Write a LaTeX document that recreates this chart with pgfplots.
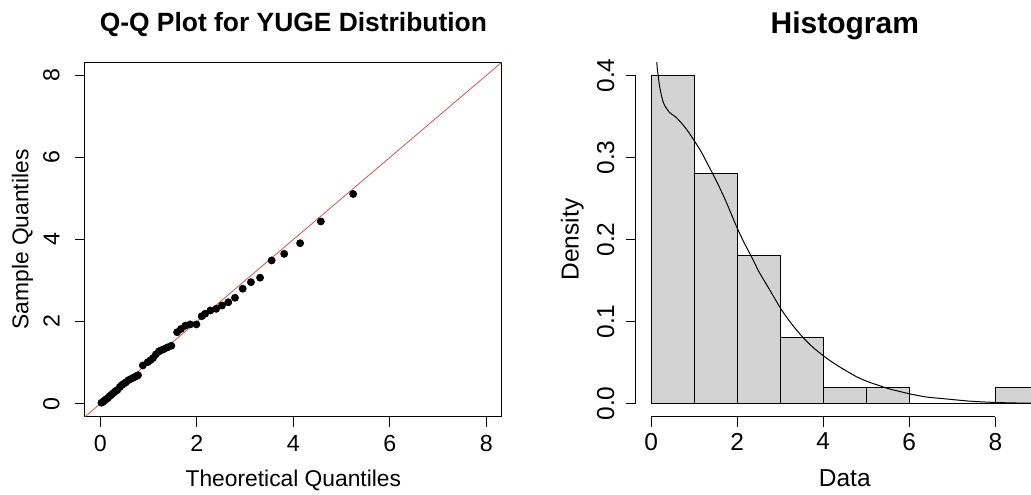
\documentclass[border=0pt]{standalone}
\usepackage{pgfplots}
\pgfplotsset{compat=1.18}
\usepackage{fontspec}
\setmainfont{Liberation Sans}
\definecolor{histfill}{HTML}{D3D3D3}
\definecolor{qqred}{RGB}{205,85,85}

\begin{document}
\begin{tikzpicture}
\useasboundingbox (0,0) rectangle (515.5pt,247pt);
% ---------------- Q-Q plot ----------------
\begin{axis}[
  scale only axis, width=208.35pt, height=177.2pt,
  at={(42.5pt,38.65pt)}, anchor=south west,
  xmin=-0.32, xmax=8.32, ymin=-0.32, ymax=8.32,
  xtick={0,2,4,6,8}, ytick={0,2,4,6,8},
  xticklabels={0,2,4,6,8}, yticklabels={0,2,4,6,8},
  xtick pos=left, ytick pos=left,
  tick align=outside, major tick length=5pt,
  every tick/.style={black, line width=0.5pt},
  axis line style={black, line width=0.5pt},
  tick label style={font=\fontsize{11.6}{13}\selectfont, inner sep=0pt},
  xticklabel style={anchor=north},
  xticklabel shift=4pt,
  yticklabel style={rotate=90, anchor=south},
  yticklabel shift=7.5pt,
  title={Q-Q Plot for YUGE Distribution},
  every axis title/.style={font=\bfseries\fontsize{13.2}{15}\selectfont, at={(axis description cs:0.5,1.0863)}, anchor=base, inner sep=0pt},
  xlabel={Theoretical Quantiles}, ylabel={Sample Quantiles},
  label style={font=\fontsize{11.4}{13}\selectfont, inner sep=0pt},
  x label style={at={(axis description cs:0.5,-0.1975)}, anchor=base},
  y label style={at={(axis description cs:-0.1356,0.5)}, anchor=base},
]
\addplot[only marks, mark=*, mark size=1.75pt, black] coordinates {
(0.02,0.02)(0.05,0.04)(0.08,0.07)(0.11,0.10)(0.15,0.13)(0.19,0.18)(0.23,0.22)
(0.27,0.26)(0.31,0.30)(0.35,0.33)(0.40,0.40)(0.44,0.45)(0.48,0.48)(0.53,0.52)
(0.58,0.57)(0.63,0.60)(0.68,0.63)(0.73,0.66)(0.78,0.69)(0.88,0.93)
(0.98,1.01)(1.04,1.06)(1.09,1.11)(1.15,1.20)(1.21,1.27)(1.26,1.30)(1.32,1.33)
(1.39,1.37)(1.47,1.41)
(1.59,1.74)(1.67,1.82)(1.76,1.90)(1.86,1.93)(1.99,1.93)(2.10,2.13)(2.17,2.19)
(2.28,2.27)(2.40,2.31)(2.52,2.39)(2.65,2.47)(2.79,2.58)(2.95,2.80)(3.12,2.96)
(3.31,3.07)(3.55,3.49)(3.81,3.65)(4.14,3.91)(4.57,4.44)(5.24,5.11)
};
\addplot[qqred, line width=0.4pt] coordinates {(-0.5,-0.5)(8.5,8.5)};
\end{axis}
% ---------------- Histogram ----------------
\begin{axis}[
  scale only axis, width=197.6pt, height=177.2pt,
  at={(317.9pt,38.65pt)}, anchor=south west,
  xmin=-0.36, xmax=8.83, ymin=-0.016, ymax=0.416,
  clip mode=individual,
  axis x line*=bottom, axis y line*=left,
  axis line style={draw=none},
  xtick={0,2,4,6,8}, xticklabels={0,2,4,6,8},
  ytick={0,0.1,0.2,0.3,0.4}, yticklabels={0.0,0.1,0.2,0.3,0.4},
  tick align=outside, major tick length=5pt,
  every tick/.style={black, line width=0.5pt},
  tick label style={font=\fontsize{12.25}{14}\selectfont, inner sep=0pt},
  xticklabel style={anchor=north},
  xticklabel shift=3pt,
  yticklabel style={rotate=90, anchor=south},
  yticklabel shift=5.5pt,
  title={Histogram},
  every axis title/.style={font=\bfseries\fontsize{15}{17}\selectfont, at={(axis description cs:0.5288,1.0818)}, anchor=base, inner sep=0pt},
  xlabel={Data}, ylabel={Density},
  label style={font=\fontsize{12.25}{14}\selectfont, inner sep=0pt},
  x label style={at={(axis description cs:0.5288,-0.1975)}, anchor=base},
  y label style={at={(axis description cs:-0.145,0.5)}, anchor=base},
]
\addplot[ybar interval, fill=histfill, draw=black, line width=0.5pt] coordinates {
(0,0.40)(1,0.28)(2,0.18)(3,0.08)(4,0.02)(5,0.02)(6,0)(7,0)(8,0.02)(9,0)
};
\addplot[black, line width=0.5pt, smooth] coordinates {
(0.11,0.45)(0.13,0.415)(0.16,0.400)(0.19,0.388)(0.23,0.377)(0.28,0.367)(0.35,0.360)
(0.42,0.355)(0.55,0.350)(0.65,0.345)(0.81,0.335)(0.98,0.322)(1.16,0.307)
(1.30,0.293)(1.47,0.276)(1.60,0.262)(1.74,0.246)(1.98,0.216)(2.15,0.197)
(2.36,0.176)(2.50,0.161)(2.67,0.146)(2.85,0.130)(3.02,0.115)(3.25,0.098)
(3.52,0.081)(3.75,0.069)(4.01,0.058)(4.25,0.049)(4.53,0.040)(4.80,0.032)
(5.07,0.026)(5.30,0.022)(5.53,0.018)(6.00,0.012)(6.40,0.008)(6.85,0.0057)
(7.40,0.003)(7.94,0.0015)(8.40,0.0008)(8.83,0.0005)
};
\draw[black, line width=0.5pt] (axis cs:0,-0.016) -- (axis cs:8,-0.016);
\draw[black, line width=0.5pt] (axis cs:-0.36,0) -- (axis cs:-0.36,0.4);
\end{axis}
\end{tikzpicture}
\end{document}
